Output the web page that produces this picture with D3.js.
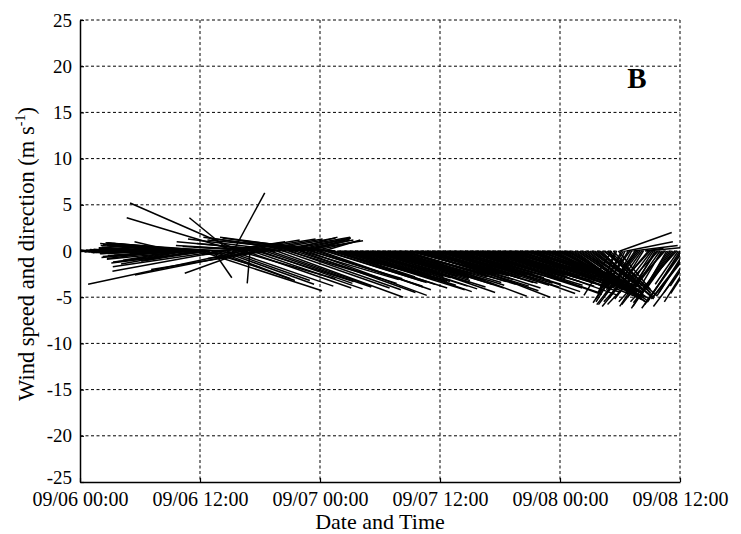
<!DOCTYPE html>
<html>
<head>
<meta charset="utf-8">
<script src="https://cdn.jsdelivr.net/npm/d3@7"></script>
<style>
    body { margin: 0; background: #fff; }
    svg text { font-family: "Liberation Serif", "Times New Roman", serif; fill: #000; }
</style>
</head>
<body>
<div id="chart"></div>
<script>
'use strict';

// wind stick plot, one stick every 10 minutes starting 09/06 00:00
var stepMinutes = 10;

// eastward component (m/s), one row per hour
var windU = [
    -0.5, -0.5, -0.6, -0.7, -0.8, -0.9,
    -1.0, -1.0, -1.1, -1.2, -1.3, -1.4,
    -1.5, -1.5, -1.6, -1.7, -1.8, -1.9,
    -2.0, -2.1, -2.2, -2.4, -2.5, -2.6,
    -2.8, -2.9, -3.0, -3.1, -3.3, -3.4,
    -3.5, -3.6, -3.8, -3.9, -4.0, -4.2,
    -4.3, -4.5, -4.6, -4.8, -5.0, -5.1,
    -5.3, -5.4, -5.6, -5.8, -6.0, -6.2,
    -6.5, -6.8, -7.0, -5.5, -4.0, -7.2,
    -7.5, -7.0, -4.2, -7.8, -8.0, -6.0,
    -8.5, -8.0, -9.0, -7.5, -5.0, -8.8,
    -9.0, -9.2, -9.5, -8.0, -6.0, -9.8,
    13.2, -10.2, -10.0, 6.0, -6.5, -10.5,
    -10.5, 9.0, 2.0, -11.0, 8.0, 7.0,
    -11.6, 10.0, -12.0, 6.5, 9.0, -12.5,
    -4.4, 11.0, 3.4, 7.0, -11.9, 10.5,
    -11.9, 8.0, -16.8, 11.5, -6.7, -5.0,
    -0.3, 12.0, 7.5, -13.0, 10.5, -7.0,
    10.0, 8.0, -6.0, 11.5, -12.5, -10.0,
    11.0, 8.5, -5.5, -10.0, 13.7, -11.0,
    -9.0, 7.5, 11.5, -10.5, 5.5, 10.0,
    12.0, 6.0, 6.5, 11.0, -9.5, 7.0,
    12.5, 10.5, 5.0, -11.0, 13.0, 4.5,
    10.0, 12.0, 4.5, -10.0, 11.5, -12.0,
    12.0, -11.0, 4.0, 11.0, 10.5, -9.0,
    9.5, 12.5, 11.0, -10.0, 8.5, 10.5,
    13.5, 9.5, 10.0, 12.0, 9.0, 11.0,
    10.5, 13.0, 8.0, 9.5, 12.0, 10.0,
    9.0, 12.5, 11.5, 8.5, 7.5, 11.0,
    12.5, 10.5, 9.5, 13.0, 10.0, 8.5,
    8.5, 12.0, 11.0, 9.0, 9.5, 12.5,
    10.5, 8.0, 12.0, 11.5, 8.0, 10.0,
    11.5, 10.0, 9.0, 12.0, 13.0, 9.5,
    9.5, 11.0, 12.5, 8.5, 10.0, 13.0,
    11.0, 9.5, 8.5, 12.5, 12.0, 10.0,
    13.0, 11.0, 10.0, 9.0, 9.0, 12.0,
    10.5, 12.0, 12.5, 9.5, 8.0, 11.0,
    12.0, 10.0, 9.5, 13.0, 11.0, 8.5,
    13.0, 11.5, 10.0, 9.0, 12.5, 10.5,
    9.0, 12.0, 11.5, 10.0, 13.5, 9.5,
    10.5, 13.0, 12.0, 9.0, 8.5, 11.5,
    11.0, 9.5, 13.5, 12.0, 9.5, 10.5,
    12.0, 10.5, 10.0, 12.5, 11.5, 9.0,
    8.5, 11.0, 12.5, 9.5, 10.5, 12.0,
    11.0, 13.0, 9.0, 10.5, 12.5, 8.5,
    10.0, 9.0, 11.5, 12.0, 8.0, 10.5,
    9.5, 11.0, 7.5, 10.0, 10.5, 8.0,
    8.0, 9.5, 9.0, 7.0, 6.5, 8.5,
    7.0, 6.0, 8.5, 7.5, 5.5, 8.0,
    6.5, 7.0, 8.0, 5.0, 4.5, 7.5,
    7.5, 6.0, 5.0, 6.5, 6.0, 4.0,
    3.5, 5.5, 6.5, 4.0, 5.0, 6.0,
    4.5, 3.0, 2.0, 5.0, 5.5, 3.5,
    3.0, -3.0, 4.0, -1.5, -2.0, 3.5,
    5.6, -2.5, -3.0, -2.0, 5.0, -3.5,
    -4.0, -2.0, 4.8, -3.0, -3.5, -4.5,
    -4.5, -3.5, -2.5, 2.0, 4.0, -5.0,
    -5.0, -4.0, -3.0, -2.0, -4.0, -5.5,
    -3.5, -2.5, -4.5, -5.0, -2.0, -4.0,
    -4.0, -3.5, -3.0, -4.5, -5.0, -2.5,
    -3.5, -4.0, -4.5, -3.0, -3.0, -4.0,
    -4.0, -3.0, -2.5, -4.5, -3.5, -3.0
];

// northward component (m/s)
var windV = [
    0, 0.05, 0.05, -0.05, -0.05, 0.05,
    0.1, 0, 0, -0.05, -0.1, 0.05,
    0.1, -0.05, -0.1, 0.1, 0.15, -0.1,
    -0.15, 0.1, 0.1, -0.2, 0.2, -0.1,
    -0.1, 0.1, 0.08, -0.15, -0.12, 0.1,
    0.1, -0.12, -0.15, 0.15, 0.12, -0.18,
    -0.18, 0.18, 0.15, -0.2, -0.2, 0.22,
    0.18, -0.25, -0.22, 0.25, 0.2, -0.28,
    -0.3, 0.35, 0.3, -0.45, -0.3, 0.4,
    0.6, -0.8, 1.0, 0.7, -0.6, -1.0,
    -0.7, 0.75, 0.8, -1.2, -0.9, 0.6,
    -0.9, 0.85, 0.9, -1.4, -1.1, -0.5,
    -4.3, 0.9, 0.7, -1.8, -1.0, -1.3,
    -1.2, -3.2, -2.9, 0.8, -3.0, 0.9,
    -1.7, -3.6, -2.2, 1.0, -3.2, 0.6,
    3.6, -3.8, 6.3, 1.2, 3.6, -3.0,
    5.2, 1.3, -3.6, -4.0, -2.4, -0.4,
    -3.5, -4.1, 1.3, -2.6, -3.3, 0.4,
    -3.5, 1.4, -0.8, -3.9, -2.0, 0.6,
    -3.8, 1.5, 0.5, 0.5, -5.0, 1.0,
    0.8, 1.4, -4.0, 1.3, 1.5, -3.0,
    -4.2, 1.3, 1.2, -3.5, 1.4, 1.1,
    -4.5, -3.1, 1.3, 1.5, -4.8, 1.2,
    -3.0, -3.8, 1.0, 1.4, -3.9, 1.2,
    -4.2, 1.5, 1.2, -3.4, -3.3, 1.0,
    -2.5, -4.0, -3.6, 1.1, -2.8, -3.1,
    -4.2, -2.7, -3.0, -3.7, -2.6, -3.3,
    -3.3, -4.4, -2.5, -2.7, -3.8, -2.9,
    -2.6, -4.1, -3.4, -2.8, -2.4, -3.2,
    -3.9, -3.0, -2.6, -4.5, -2.9, -2.7,
    -2.5, -3.6, -3.2, -2.6, -2.7, -4.0,
    -2.8, -2.6, -3.7, -3.4, -2.4, -2.6,
    -3.3, -2.9, -2.6, -3.6, -4.9, -2.5,
    -2.5, -3.1, -3.8, -2.6, -2.7, -4.3,
    -3.0, -2.6, -2.5, -4.0, -3.5, -2.8,
    -5.0, -3.4, -2.6, -2.7, -2.5, -3.7,
    -2.8, -3.5, -3.9, -2.5, -2.6, -3.2,
    -3.6, -2.9, -2.6, -4.6, -3.1, -2.7,
    -4.4, -3.4, -2.7, -2.6, -4.0, -3.0,
    -2.6, -3.7, -3.3, -2.8, -4.6, -2.6,
    -2.9, -4.7, -3.8, -2.5, -2.6, -3.5,
    -3.2, -2.7, -4.8, -3.9, -2.6, -3.4,
    -4.0, -3.3, -2.8, -4.5, -3.6, -2.7,
    -2.6, -3.5, -4.4, -2.9, -3.1, -4.2,
    -3.6, -5.2, -2.5, -3.4, -4.9, -2.8,
    -3.3, -3.0, -4.2, -5.0, -2.7, -3.7,
    -3.8, -4.6, -2.6, -3.9, -4.5, -3.2,
    -3.5, -4.9, -4.8, -3.6, -2.9, -4.4,
    -4.0, -3.4, -5.3, -4.6, -3.2, -5.0,
    -4.5, -4.8, -5.6, -3.6, -3.0, -5.4,
    -5.2, -4.4, -3.4, -5.5, -4.6, -3.1,
    -2.5, -4.2, -5.0, -3.3, -3.8, -5.2,
    -4.0, -3.2, -1.5, -4.6, -4.9, -3.9,
    -3.0, -4.8, -4.5, -4.0, -4.5, -4.2,
    2.0, -4.5, -5.2, -4.2, 1.0, -5.5,
    -5.6, -3.8, 0.6, -4.5, -4.8, -5.8,
    -5.8, -5.0, -4.0, 0.3, 0.4, -6.0,
    -5.5, -5.2, -4.5, -3.5, -6.0, -5.8,
    -5.0, -4.2, -5.8, -5.5, -3.5, -6.2,
    -6.0, -5.0, -4.2, -5.6, -5.5, -3.6,
    -5.5, -5.8, -6.2, -4.8, -4.5, -5.2,
    -5.0, -4.5, -3.8, -6.0, -5.5, -4.6
];

var yTicks = [-25, -20, -15, -10, -5, 0, 5, 10, 15, 20, 25];
var panelLabel = 'B';

var startTime = new Date(2000, 8, 6, 0, 0),
    endTime = new Date(2000, 8, 8, 12, 0);

var width = 741,
    height = 534,
    margin = { top: 20, right: 61, bottom: 52, left: 80 },
    plotW = width - margin.left - margin.right,
    plotH = height - margin.top - margin.bottom;

var svg = d3.select('#chart').append('svg')
            .attr('width', width)
            .attr('height', height);

var g = svg.append('g')
           .attr('transform', 'translate(' + margin.left + ',' + margin.top + ')');

var x = d3.scaleTime().domain([startTime, endTime]).range([0, plotW]),
    y = d3.scaleLinear().domain([-25, 25]).range([plotH, 0]);

var xTicks = d3.timeHour.every(12).range(startTime, d3.timeMinute.offset(endTime, 1));

// grid
g.append('g').selectAll('line')
 .data(yTicks.filter(function (d) { return d > -25; }))
 .enter().append('line')
 .attr('x1', 0).attr('x2', plotW)
 .attr('y1', function (d) { return y(d); })
 .attr('y2', function (d) { return y(d); })
 .attr('stroke', '#000').attr('stroke-width', 1)
 .attr('stroke-dasharray', '3,2.5');

g.append('g').selectAll('line')
 .data(xTicks.slice(1))
 .enter().append('line')
 .attr('x1', function (d) { return x(d); })
 .attr('x2', function (d) { return x(d); })
 .attr('y1', 0).attr('y2', plotH)
 .attr('stroke', '#000').attr('stroke-width', 1)
 .attr('stroke-dasharray', '3,2.5');

// sticks
svg.append('clipPath').attr('id', 'plotclip')
   .append('rect').attr('width', plotW).attr('height', plotH);

var k = y(0) - y(1);
var sticks = windU.map(function (u, i) {
    return { t: d3.timeMinute.offset(startTime, stepMinutes * i), u: u, v: windV[i] };
});

g.append('g').attr('clip-path', 'url(#plotclip)')
 .selectAll('line')
 .data(sticks)
 .enter().append('line')
 .attr('x1', function (d) { return x(d.t); })
 .attr('y1', y(0))
 .attr('x2', function (d) { return x(d.t) + d.u * k; })
 .attr('y2', function (d) { return y(d.v); })
 .attr('stroke', '#000')
 .attr('stroke-width', 1.5);

// axes
var xAxis = d3.axisBottom(x)
              .tickValues(xTicks)
              .tickFormat(d3.timeFormat('%m/%d %H:%M'))
              .tickSizeInner(-4).tickSizeOuter(0).tickPadding(10);

var yAxis = d3.axisLeft(y)
              .tickValues(yTicks)
              .tickFormat(function (d) { return String(d); })
              .tickSizeInner(-4).tickSizeOuter(0).tickPadding(8);

var gx = g.append('g').attr('transform', 'translate(0,' + plotH + ')').call(xAxis);
var gy = g.append('g').call(yAxis);

[gx, gy].forEach(function (a) {
    a.select('.domain').attr('stroke', '#000').attr('stroke-width', 1.5);
    a.selectAll('.tick line').attr('stroke', '#000').attr('stroke-width', 1.2);
    a.selectAll('.tick text')
     .attr('font-family', '"Liberation Serif", "Times New Roman", serif')
     .attr('fill', '#000');
});
gx.selectAll('.tick text').attr('font-size', 20);
gy.selectAll('.tick text').attr('font-size', 19)
  .attr('dy', function (d) { return d === -25 ? '0.1em' : '0.32em'; });

// titles
svg.append('text')
   .attr('x', margin.left + plotW / 2)
   .attr('y', 529)
   .attr('text-anchor', 'middle')
   .attr('font-size', 22)
   .text('Date and Time');

var yTitle = svg.append('text')
                .attr('transform', 'translate(34,254) rotate(-90)')
                .attr('text-anchor', 'middle')
                .attr('font-size', 22.5);
yTitle.append('tspan').text('Wind speed and direction (m s');
yTitle.append('tspan').attr('dy', -9).attr('font-size', 14).text('-1');
yTitle.append('tspan').attr('dy', 9).text(')');

svg.append('text')
   .attr('x', 637)
   .attr('y', 88)
   .attr('text-anchor', 'middle')
   .attr('font-size', 29)
   .attr('font-weight', 'bold')
   .text(panelLabel);
</script>
</body>
</html>
